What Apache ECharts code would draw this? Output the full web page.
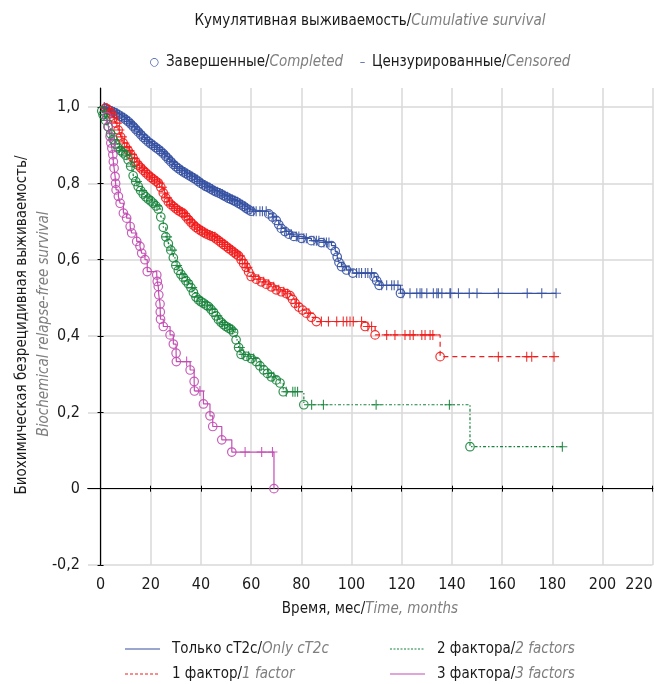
<!DOCTYPE html>
<html lang="ru">
<head>
<meta charset="UTF-8">
<title>km-survival</title>
<script src="https://cdn.jsdelivr.net/npm/echarts@6/dist/echarts.min.js"></script>
<style>html,body{margin:0;padding:0;background:#fff;}</style>
</head>
<body>
<div id="container" style="width:654px;height:684px;"></div>
<script>
var FONT = "'Liberation Sans Narrow', 'DejaVu Sans Condensed', sans-serif";

// tick labels
var timeTicks = [0, 20, 40, 60, 80, 100, 120, 140, 160, 180, 200, 220];
var survTicks = [-0.2, 0, 0.2, 0.4, 0.6, 0.8, 1.0];

// group names
var groupNames = ['Только cT2c/Only cT2c', '1 фактор/1 factor', '2 фактора/2 factors', '3 фактора/3 factors'];

// events: [month, survival after the event]; censored: months
var onlyT2cEvents = [[2,0.996],[3,0.993],[4,0.99],[5,0.987],[6,0.984],[7,0.98],[8,0.976],[9,0.972],[10,0.967],[11,0.962],[12,0.956],[13,0.949],[14,0.942],[15,0.935],[16,0.928],[17,0.921],[18,0.915],[19,0.909],[20,0.904],[21,0.899],[22,0.894],[23,0.889],[24,0.884],[25,0.878],[26,0.871],[27,0.864],[28,0.857],[29,0.85],[30,0.844],[31,0.839],[32,0.834],[33,0.83],[34,0.826],[35,0.822],[36,0.818],[37,0.814],[38,0.81],[39,0.805],[40,0.8],[41,0.796],[42,0.792],[43,0.789],[44,0.785],[45,0.781],[46,0.778],[47,0.775],[48,0.772],[49,0.768],[50,0.765],[51,0.761],[52,0.758],[53,0.755],[54,0.752],[55,0.748],[56,0.744],[57,0.74],[58,0.735],[59,0.731],[60,0.727],[67,0.72],[68.5,0.712],[70,0.703],[71,0.692],[72,0.682],[73.5,0.674],[75,0.667],[77,0.661],[80,0.656],[84,0.65],[88,0.645],[92,0.637],[93.5,0.622],[94.3,0.607],[95,0.593],[96,0.582],[98,0.573],[100.5,0.565],[109,0.555],[110,0.545],[111,0.533],[119.5,0.512]];
var onlyT2cCensored = [1.5,2.5,3.5,4.5,5.5,6.5,7.5,8.5,9.5,10.5,11.5,12.5,13.5,14.5,15.5,16.5,17.5,18.5,19.5,20.5,21.5,22.5,23.5,24.5,25.5,26.5,27.5,28.5,29.5,30.5,31.5,32.5,33.5,34.5,35.5,36.5,37.5,38.5,39.5,40.5,41.5,42.5,43.5,44.5,45.5,46.5,47.5,48.5,49.5,50.5,51.5,52.5,53.5,54.5,55.5,56.5,57.5,58.5,59.5,61,62,63.5,64.5,66,69,74,76,78,79,81,82,85,86,87,89,90,91,97,99,102,103,104,105.5,106.5,108,112,114,116,117,118.5,120.5,123.3,126,127.3,128,130,132.6,134,134.6,136,139.2,139.5,142.6,146.9,150,158.5,170,175.8,181.5];

var oneFactorEvents = [[2,0.998],[3,0.993],[4,0.985],[5,0.972],[6,0.958],[7,0.94],[8,0.922],[9,0.906],[10,0.895],[11,0.886],[12,0.876],[13,0.866],[14,0.856],[15,0.848],[16,0.841],[17,0.834],[18,0.828],[19,0.822],[20,0.816],[21,0.811],[22,0.806],[23,0.801],[24,0.79],[25,0.775],[26,0.762],[27,0.752],[28,0.745],[29,0.739],[30,0.734],[31,0.729],[32,0.725],[33,0.721],[34,0.713],[35,0.705],[36,0.698],[37,0.691],[38,0.685],[39,0.68],[40,0.676],[41,0.672],[42,0.668],[43,0.665],[44,0.662],[45,0.66],[46,0.655],[47,0.65],[48,0.645],[49,0.64],[50,0.635],[51,0.63],[52,0.625],[53,0.62],[54,0.615],[55,0.61],[56,0.6],[57,0.59],[58,0.58],[59,0.568],[60,0.556],[62,0.549],[64,0.542],[66,0.536],[68,0.529],[70,0.521],[72,0.516],[74,0.511],[75.5,0.506],[76.5,0.496],[77.5,0.486],[79,0.476],[80.5,0.468],[82,0.46],[84,0.449],[86,0.438],[105.4,0.425],[109.4,0.403],[135.3,0.346]];
var oneFactorCensored = [3.5,4.5,5.5,6.5,7.5,8.5,9.5,10.5,11.5,12.5,13.5,14.5,15.5,16.5,17.5,18.5,19.5,20.5,21.5,22.5,23.5,24.5,25.5,26.5,27.5,28.5,29.5,30.5,31.5,32.5,33.5,34.5,35.5,36.5,37.5,38.5,39.5,40.5,41.5,42.5,43.5,44.5,45.5,46.5,47.5,48.5,49.5,50.5,51.5,52.5,53.5,54.5,55.5,56.5,57.5,58.5,61,63,65,67,69,71,73,74.5,78,83,88,90.8,94.1,96.7,98.1,99.4,100.7,104,106.5,108,114,117.3,121.3,123.3,124.6,128,129.3,131.3,132.4,158.5,169.8,171.8,180.7];

var twoFactorEvents = [[0.5,0.99],[1,0.98],[2,0.965],[3,0.948],[4,0.93],[5,0.915],[6,0.903],[7,0.893],[8,0.886],[9,0.88],[10,0.874],[11,0.862],[12,0.845],[13,0.82],[14,0.805],[15,0.792],[16,0.781],[17,0.772],[18,0.765],[19,0.759],[20,0.754],[21,0.748],[22,0.741],[23,0.733],[24,0.712],[25,0.685],[26,0.66],[27,0.642],[28,0.625],[29,0.605],[30,0.585],[31,0.572],[32,0.562],[33,0.553],[34,0.545],[35,0.537],[36,0.527],[37,0.514],[38,0.502],[39,0.495],[40,0.49],[41,0.486],[42,0.481],[43,0.477],[44,0.47],[45,0.462],[46,0.453],[47,0.443],[48,0.436],[49,0.43],[50,0.425],[51,0.421],[52,0.417],[53,0.41],[54,0.39],[55,0.37],[56,0.352],[58,0.347],[60,0.341],[62,0.333],[63.5,0.322],[65,0.311],[66.5,0.302],[68,0.293],[70,0.285],[71.5,0.277],[72.8,0.254],[81,0.22],[147.2,0.11]];
var twoFactorCensored = [1.5,2.5,4.5,5.5,7.5,8.5,10.5,12.5,14.5,16.5,18.5,20.5,22.5,26.5,28.5,30.5,32.5,34.5,36.5,38.5,40.5,42.5,44.5,46.5,48.5,49.5,51.5,52.5,55.5,57,59,61,64,67,69,74,76.6,77.5,78.5,84.1,88.8,109.8,139,184];

var threeFactorEvents = [[2.5,0.975],[3.1,0.949],[3.8,0.923],[4.1,0.906],[4.5,0.892],[4.9,0.875],[5.1,0.857],[5.4,0.84],[5.8,0.818],[6,0.8],[6.2,0.783],[7.1,0.766],[7.8,0.748],[9.1,0.722],[10.4,0.709],[11.8,0.687],[12.4,0.67],[14.4,0.648],[15.7,0.635],[16.4,0.617],[17.7,0.6],[18.6,0.569],[22.4,0.56],[22.6,0.543],[23,0.53],[23.2,0.508],[23.7,0.484],[23.8,0.463],[23.9,0.444],[25,0.425],[27.7,0.403],[29,0.379],[30.1,0.355],[30.2,0.333],[35.7,0.311],[37.3,0.281],[37.4,0.256],[41,0.222],[43.6,0.191],[44.7,0.163],[48.3,0.128],[52.3,0.096],[69.1,0]];
var threeFactorCensored = [34.3,39.6,57.6,64.2,68.5];

var colors = ['#3551a2', '#f21c1c', '#17843c', '#c24db3'];
var dashes = ['solid', [5, 4], [1.5, 2, 3, 2], 'solid'];

function survAt(events, t) {
  var s = 1;
  for (var i = 0; i < events.length; i++) {
    if (events[i][0] <= t) s = events[i][1];
  }
  return s;
}

function curve(events, censored) {
  var pts = [[0, 1]].concat(events);
  var end = Math.max(censored[censored.length - 1], events[events.length - 1][0]);
  pts.push([end, survAt(events, end)]);
  return pts;
}

var groups = [
  [onlyT2cEvents, onlyT2cCensored],
  [oneFactorEvents, oneFactorCensored],
  [twoFactorEvents, twoFactorCensored],
  [threeFactorEvents, threeFactorCensored]
];

var series = [];
groups.forEach(function (g, i) {
  series.push({
    name: groupNames[i], type: 'line', step: 'end', symbol: 'none',
    data: curve(g[0], g[1]),
    lineStyle: { color: colors[i], width: 1.2, type: dashes[i] },
    z: 2, silent: true
  });
  series.push({
    name: groupNames[i], type: 'scatter', symbol: 'circle', symbolSize: 8.5,
    data: g[0],
    itemStyle: { color: 'rgba(255,255,255,0)', borderColor: colors[i], borderWidth: 1.2, opacity: 0.9 },
    z: 3, silent: true
  });
  series.push({
    name: groupNames[i], type: 'scatter', symbol: 'path://M4,0h1v9h-1zM0,4h9v1h-9z', symbolSize: 10,
    data: g[1].map(function (t) { return [t, survAt(g[0], t)]; }),
    itemStyle: { color: colors[i], opacity: 0.9 },
    z: 3, silent: true
  });
});

var txt = { fontSize: 15, fontFamily: FONT, fill: '#1a1a1a' };
var ital = { fontSize: 15, fontFamily: FONT, fill: '#7f7f7f', fontStyle: 'italic' };
var sym = { fontSize: 11, fontFamily: 'DejaVu Sans', fill: '#3551a2' };

var graphics = [
  { type: 'text', x: 370, y: 21, style: { text: '{a|Кумулятивная выживаемость/}{b|Cumulative survival}', align: 'center', verticalAlign: 'middle', rich: { a: txt, b: ital } } },
  { type: 'text', x: 360, y: 62, style: { text: '{s|○}  {a|Завершенные/}{b|Completed}     {s|–}  {a|Цензурированные/}{b|Censored}', align: 'center', verticalAlign: 'middle', rich: { a: txt, b: ital, s: sym } } },
  { type: 'text', x: 22, y: 325, rotation: Math.PI / 2, style: { text: '{a|Биохимическая безрецидивная выживаемость/}', align: 'center', verticalAlign: 'middle', rich: { a: txt } } },
  { type: 'text', x: 44, y: 324, rotation: Math.PI / 2, style: { text: '{b|Biochemical relapse-free survival}', align: 'center', verticalAlign: 'middle', rich: { b: ital } } },
  { type: 'text', x: 370, y: 609, style: { text: '{a|Время, мес/}{b|Time, months}', align: 'center', verticalAlign: 'middle', rich: { a: txt, b: ital } } }
];

var legendPos = [[125, 649], [125, 674], [390, 649], [390, 674]];
var legendTexts = ['{a|Только cT2c/}{b|Only cT2c}', '{a|1 фактор/}{b|1 factor}', '{a|2 фактора/}{b|2 factors}', '{a|3 фактора/}{b|3 factors}'];
legendPos.forEach(function (p, i) {
  var d = dashes[i] === 'solid' ? null : (i === 2 ? [2, 1.5] : [3, 2]);
  graphics.push({ type: 'line', shape: { x1: p[0], y1: p[1], x2: p[0] + 35, y2: p[1] }, style: { stroke: colors[i], lineWidth: 1.2, lineDash: d } });
  graphics.push({ type: 'text', x: p[0] + 47, y: p[1], style: { text: legendTexts[i], align: 'left', verticalAlign: 'middle', rich: { a: txt, b: ital } } });
});

var axisText = { fontSize: 16, fontFamily: FONT, color: '#1a1a1a' };

var option = {
  animation: false,
  grid: { left: 88, top: 88, right: 1.3, bottom: 119, outerBoundsMode: 'none', containLabel: false },
  xAxis: [{
    type: 'value', min: -5, max: 220,
    axisLine: { lineStyle: { color: '#000', width: 1.2 } },
    axisTick: { inside: true, length: 3, customValues: timeTicks, lineStyle: { color: '#000' } },
    axisLabel: Object.assign({ customValues: timeTicks, margin: 12, alignMaxLabel: 'right' }, axisText),
    splitLine: { show: true, lineStyle: { color: '#d9d9d9', width: 1.5 } }
  }, {
    type: 'value', min: -5, max: 220, position: 'top',
    axisLine: { lineStyle: { color: '#000', width: 1.2 } },
    axisTick: { inside: true, length: 3, customValues: timeTicks, lineStyle: { color: '#000' } },
    axisLabel: { show: false }, splitLine: { show: false }
  }],
  yAxis: [{
    type: 'value', min: -0.2, max: 1.05,
    axisLine: { show: true, lineStyle: { color: '#000', width: 1.2 } },
    axisTick: { show: true, inside: true, length: 3, customValues: survTicks, lineStyle: { color: '#000' } },
    axisLabel: Object.assign({
      customValues: survTicks, margin: 8,
      formatter: function (v) { return Math.abs(v) < 1e-9 ? '0' : v.toFixed(1).replace('.', ','); }
    }, axisText),
    splitLine: { show: true, lineStyle: { color: '#d9d9d9', width: 1.5 } }
  }, {
    type: 'value', min: -0.2, max: 1.05, position: 'right',
    axisLine: { show: false },
    axisTick: { show: true, inside: true, length: 3, customValues: survTicks, lineStyle: { color: '#000' } },
    axisLabel: { show: false }, splitLine: { show: false }
  }],
  series: series,
  graphic: { elements: graphics }
};

var myChart = echarts.init(document.getElementById('container'));
myChart.setOption(option);
</script>
</body>
</html>
